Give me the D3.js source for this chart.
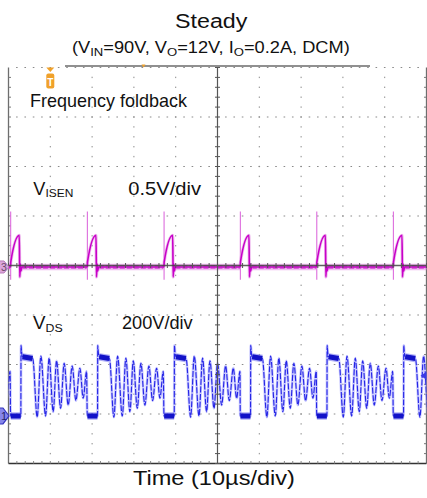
<!DOCTYPE html>
<html><head><meta charset="utf-8">
<script src="https://cdn.jsdelivr.net/npm/d3@7"></script>
<style>
html,body{margin:0;padding:0;background:#fff;}
svg{display:block;font-family:"Liberation Sans",Arial,Helvetica,sans-serif;}
</style></head><body>
<svg id="chart" width="427" height="498"></svg>
<script>
// ---- acquisition settings ----
const timeRangeUs = [-50, 50];        // 10 µs/div, 10 divisions
const divRange = [-4, 4];             // 8 vertical divisions
const vdsVoltsPerDiv = 200;
const isenVoltsPerDiv = 0.5;
const vdsGroundDiv = -3.04;
const isenGroundDiv = -0.03;

// turn-on instants of each switching cycle (µs)
const cycleStartsUs = [-67.8, -49.5, -31.15, -12.8, 5.45, 23.73, 42.06];

// V_DS over one cycle: [µs after turn-on, V]
const vdsCycle = [
  [0.00, 0], [2.45, 0], [2.50, 285], [2.62, 262], [2.80, 240], [5.30, 232],
  [6.36, -5], [7.25, 242], [8.37, 0], [9.23, 234], [10.19, 17], [11.00, 223],
  [11.96, 31], [12.82, 213], [13.78, 44], [14.74, 202], [15.62, 62], [16.58, 193],
  [17.37, 72], [18.18, 180]
];
// noisy flat stretches of V_DS: [t0, v0, t1, v1]
const vdsFlatBands = [[0.04, 0, 2.43, 0], [2.85, 239, 5.25, 232]];

// V_ISEN over one cycle: [µs after turn-on, V]
const isenCycle = [
  [0.00, 0.00], [0.04, 0.05], [2.08, 0.32], [2.20, -0.10], [2.35, 0.03],
  [2.50, -0.04], [2.70, 0.00], [18.15, 0.00]
];
// leading-edge spike: [µs, min V, max V]
const isenSpike = [0.02, -0.13, 0.56];
const isenFlatBands = [[2.75, 0, 18.2, 0]];

// ---- text ----
const titleText = "Steady";
const subtitleParts = [["(V", ""], ["IN", "sub"], ["=90V, V", ""], ["O", "sub"], ["=12V, I", ""], ["O", "sub"], ["=0.2A, DCM)", ""]];
const annotationText = "Frequency foldback";
const isenLabelParts = [["V", ""], ["ISEN", "sub"]];
const isenScaleText = "0.5V/div";
const vdsLabelParts = [["V", ""], ["DS", "sub"]];
const vdsScaleText = "200V/div";
const xAxisTitle = "Time (10µs/div)";

const svg = d3.select("#chart");
const x = d3.scaleLinear().domain(timeRangeUs).range([8.5, 426.5]);
const yDiv = d3.scaleLinear().domain(divRange).range([463.5, 67.5]);
const yVds = v => yDiv(v / vdsVoltsPerDiv + vdsGroundDiv);
const yIsen = v => yDiv(v / isenVoltsPerDiv + isenGroundDiv);

const X0 = x(timeRangeUs[0]), X1 = x(timeRangeUs[1]);
const Y0 = yDiv(divRange[1]), Y1 = yDiv(divRange[0]);

const majorT = d3.range(timeRangeUs[0], timeRangeUs[1] + 0.01, 10);
const minorT = d3.range(timeRangeUs[0], timeRangeUs[1] + 0.01, 2);
const majorD = d3.range(divRange[0], divRange[1] + 0.01, 1);
const minorD = d3.range(divRange[0], divRange[1] + 0.01, 0.2);

// ---- graticule ----
const grid = svg.append("g");
// dotted vertical lines
majorT.filter(t => t !== 0 && Math.abs(t) !== 50).forEach(t => {
  grid.selectAll(null).data(minorD.slice(1, -1)).join("rect")
    .attr("x", x(t) - 0.5).attr("y", d => yDiv(d) - 0.7)
    .attr("width", 1).attr("height", 1.4).attr("fill", "#8a8a8a");
});
// dotted horizontal lines (including top edge)
majorD.filter(d => d !== 0 && d !== -4).forEach(dv => {
  grid.selectAll(null).data(minorT.slice(1, -1)).join("rect")
    .attr("x", d => x(d) - 0.8).attr("y", yDiv(dv) - 0.5)
    .attr("width", 1.6).attr("height", 1).attr("fill", "#8a8a8a");
});
// solid frame edges
grid.append("line").attr("x1", X0).attr("x2", X0).attr("y1", Y0).attr("y2", Y1)
  .attr("stroke", "#6e6e6e").attr("stroke-width", 1.3);
grid.append("line").attr("x1", X1).attr("x2", X1).attr("y1", Y0).attr("y2", Y1)
  .attr("stroke", "#6e6e6e").attr("stroke-width", 1.3);
grid.append("line").attr("x1", X0).attr("x2", X1).attr("y1", Y1).attr("y2", Y1)
  .attr("stroke", "#333").attr("stroke-width", 1.3);
grid.append("line").attr("x1", 65).attr("x2", 370).attr("y1", 66).attr("y2", 66)
  .attr("stroke", "#222").attr("stroke-width", 1.2);
// edge ticks
grid.selectAll(null).data(minorD.slice(1, -1)).join("line")
  .attr("x1", X0).attr("x2", X0 + 2.5).attr("y1", d => yDiv(d)).attr("y2", d => yDiv(d))
  .attr("stroke", "#777").attr("stroke-width", 1);
grid.selectAll(null).data(minorD.slice(1, -1)).join("line")
  .attr("x1", X1 - 2.5).attr("x2", X1).attr("y1", d => yDiv(d)).attr("y2", d => yDiv(d))
  .attr("stroke", "#777").attr("stroke-width", 1);
grid.selectAll(null).data(minorT.slice(1, -1)).join("line")
  .attr("x1", d => x(d)).attr("x2", d => x(d)).attr("y1", Y1 - 2.5).attr("y2", Y1)
  .attr("stroke", "#888").attr("stroke-width", 1);

// ---- traces ----
svg.append("clipPath").attr("id", "plot-clip")
  .append("rect").attr("x", X0).attr("y", Y0).attr("width", X1 - X0).attr("height", Y1 - Y0);
const traces = svg.append("g").attr("clip-path", "url(#plot-clip)");

const expand = cycle => cycleStartsUs.flatMap(s => cycle.map(([t, v]) => [s + t, v]));
const bands = list => cycleStartsUs.flatMap(s => list.map(([t0, v0, t1, v1]) => [s + t0, v0, s + t1, v1]));

// V_ISEN (channel 3)
const isenLine = d3.line().x(d => x(d[0])).y(d => yIsen(d[1])).curve(d3.curveMonotoneX);
const isenData = expand(isenCycle);
traces.selectAll(null).data(bands(isenFlatBands)).join("line")
  .attr("x1", d => x(d[0])).attr("y1", d => yIsen(d[1])).attr("x2", d => x(d[2])).attr("y2", d => yIsen(d[3]))
  .attr("stroke", "#e27be2").attr("stroke-width", 6.5).attr("stroke-opacity", 0.5);
traces.selectAll(null).data(bands(isenFlatBands)).join("line")
  .attr("x1", d => x(d[0])).attr("y1", d => yIsen(d[1])).attr("x2", d => x(d[2])).attr("y2", d => yIsen(d[3]))
  .attr("stroke", "#c414c4").attr("stroke-width", 3.4).attr("stroke-dasharray", "5 2");
traces.selectAll(null).data(cycleStartsUs).join("line")
  .attr("x1", s => x(s + isenSpike[0])).attr("x2", s => x(s + isenSpike[0]))
  .attr("y1", yIsen(isenSpike[1])).attr("y2", yIsen(isenSpike[2]))
  .attr("stroke", "#dd6ddd").attr("stroke-width", 1.1);
traces.append("path").attr("d", isenLine(isenData)).attr("fill", "none")
  .attr("stroke", "#e8a0e8").attr("stroke-width", 3.2).attr("stroke-opacity", 0.7);
traces.append("path").attr("d", isenLine(isenData)).attr("fill", "none")
  .attr("stroke", "#c800c8").attr("stroke-width", 1.6);

// V_DS (channel 1)
const vdsLine = d3.line().x(d => x(d[0])).y(d => yVds(d[1])).curve(d3.curveMonotoneX);
const vdsData = expand(vdsCycle);
traces.append("path").attr("d", vdsLine(vdsData)).attr("fill", "none")
  .attr("stroke", "#a8a8ff").attr("stroke-width", 2.8).attr("stroke-opacity", 0.6);
traces.append("path").attr("d", vdsLine(vdsData)).attr("fill", "none")
  .attr("stroke", "#2626e6").attr("stroke-width", 1.15).attr("stroke-dasharray", "6 1.5");
traces.selectAll(null).data(bands(vdsFlatBands)).join("line")
  .attr("x1", d => x(d[0])).attr("y1", d => yVds(d[1])).attr("x2", d => x(d[2])).attr("y2", d => yVds(d[3]))
  .attr("stroke", "#7070ee").attr("stroke-width", 7.5).attr("stroke-opacity", 0.55);
traces.selectAll(null).data(bands(vdsFlatBands)).join("line")
  .attr("x1", d => x(d[0])).attr("y1", d => yVds(d[1])).attr("x2", d => x(d[2])).attr("y2", d => yVds(d[3]))
  .attr("stroke", "#1212c8").attr("stroke-width", 5);

// center cross with ticks, drawn over the traces
const cross = svg.append("g");
cross.append("line").attr("x1", x(0)).attr("x2", x(0)).attr("y1", Y0).attr("y2", Y1)
  .attr("stroke", "#555").attr("stroke-width", 1.2);
cross.append("line").attr("x1", X0).attr("x2", X1).attr("y1", yDiv(0)).attr("y2", yDiv(0))
  .attr("stroke", "#444").attr("stroke-width", 1.3).attr("stroke-opacity", 0.85);
cross.selectAll(null).data(minorD).join("line")
  .attr("x1", x(0) - 2.5).attr("x2", x(0) + 2.5).attr("y1", d => yDiv(d)).attr("y2", d => yDiv(d))
  .attr("stroke", "#555").attr("stroke-width", 1);
cross.selectAll(null).data(minorT).join("line")
  .attr("x1", d => x(d)).attr("x2", d => x(d)).attr("y1", yDiv(0) - 2.5).attr("y2", yDiv(0) + 2.5)
  .attr("stroke", "#555").attr("stroke-width", 1);

// ---- scope markers ----
const mk = svg.append("g");
const gy3 = yIsen(0), gy1 = yVds(0);
mk.append("path").attr("d", `M-6,${gy3 - 6}H4L9,${gy3}L4,${gy3 + 6}H-6Z`)
  .attr("fill", "#dba6db").attr("stroke", "#b97ab9").attr("stroke-width", 1);
mk.append("text").attr("x", 1).attr("y", gy3 + 3.8).attr("font-size", 10.5).attr("fill", "#6a4a6a").text("3");
mk.append("path").attr("d", `M-6,${gy1 - 8}H3L9,${gy1}L3,${gy1 + 8}H-6Z`)
  .attr("fill", "#8686ea").attr("stroke", "#3535c0").attr("stroke-width", 1.2);
mk.append("text").attr("x", 1).attr("y", gy1 + 4).attr("font-size", 11).attr("fill", "#22226a").text("1");
// trigger level arrow on the right edge
const trigY = yVds(163);
mk.append("path").attr("d", `M${X1 - 6},${trigY}L${X1},${trigY - 4}V${trigY + 4}Z`).attr("fill", "#3a3ae6");
// trigger position marker
const tx = x(-40);
mk.append("path").attr("d", `M${tx - 4},${Y0}H${tx + 4}L${tx},${Y0 + 4.5}Z`).attr("fill", "#f0a12a");
mk.append("rect").attr("x", tx - 4).attr("y", Y0 + 6).attr("width", 8).attr("height", 15).attr("rx", 2)
  .attr("fill", "#f0a12a");
mk.append("text").attr("x", tx).attr("y", Y0 + 18).attr("text-anchor", "middle")
  .attr("font-size", 10).attr("font-weight", "bold").attr("fill", "#fff").text("T");
mk.append("path").attr("d", `M${x(-17.7) - 2},${Y0 - 3}H${x(-17.7) + 2}L${x(-17.7)},${Y0}Z`).attr("fill", "#f0a12a");

// ---- text ----
function fit(sel, left, width) {
  const w = sel.node().getBBox().width;
  const k = width / w;
  sel.attr("transform", `translate(${left},0) scale(${k},1) translate(${-left},0)`);
}
function richText(parts, left, base, size, subSize, shift) {
  const t = svg.append("text").attr("x", left).attr("y", base).attr("font-size", size).attr("fill", "#111");
  let down = false;
  parts.forEach(([s, kind]) => {
    const sp = t.append("tspan").text(s);
    if (kind === "sub" && !down) { sp.attr("dy", shift).attr("font-size", subSize); down = true; }
    else if (kind === "sub") { sp.attr("font-size", subSize); }
    else if (down) { sp.attr("dy", -shift); down = false; }
  });
  return t;
}
fit(richText([[titleText, ""]], 175, 28.5, 21, 21, 0), 175, 73);
fit(richText(subtitleParts, 72, 53, 16, 11.5, 3), 72, 278);
fit(richText([[annotationText, ""]], 30, 106.7, 18, 18, 0), 30, 158);
fit(richText(isenLabelParts, 33.3, 195, 17.5, 11.5, 2.5), 33.3, 40);
fit(richText([[isenScaleText, ""]], 128.3, 195, 17.5, 17.5, 0), 128.3, 73);
fit(richText(vdsLabelParts, 33, 329.5, 17.5, 11.5, 2.5), 33, 30);
fit(richText([[vdsScaleText, ""]], 122, 329.5, 17.5, 17.5, 0), 122, 71);
fit(richText([[xAxisTitle, ""]], 133, 485.5, 21, 21, 0), 133, 162);
</script>
</body></html>
